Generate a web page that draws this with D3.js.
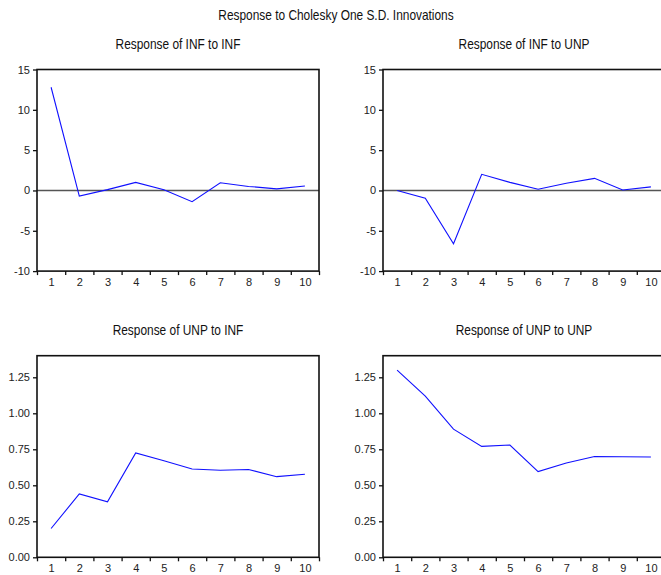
<!DOCTYPE html>
<html>
<head>
<meta charset="utf-8">
<script src="https://d3js.org/d3.v7.min.js"></script>
<style>
body { margin: 0; background: #fff; }
.title { font: 14px "Liberation Sans", Arial, sans-serif; fill: #111; }
.axis text { font: 11px "Liberation Sans", Arial, sans-serif; fill: #222; }
.axis path { display: none; }
.axis line { stroke: #111; stroke-width: 1.3; }
</style>
</head>
<body>
<svg id="chart" width="661" height="575"></svg>
<script>
// horizon (periods after the shock)
var periods = [1, 2, 3, 4, 5, 6, 7, 8, 9, 10];

// impulse responses
var infToInf = [12.8, -0.7, 0.1, 1.0, 0.1, -1.4, 0.95, 0.5, 0.2, 0.55];
var infToUnp = [0.0, -0.95, -6.6, 2.0, 1.0, 0.15, 0.9, 1.5, 0.05, 0.45];
var unpToInf = [0.20, 0.44, 0.385, 0.725, 0.67, 0.613, 0.605, 0.61, 0.56, 0.577];
var unpToUnp = [1.30, 1.12, 0.89, 0.77, 0.78, 0.595, 0.655, 0.70, 0.698, 0.697];

// y axis ticks for the two rows
var infTicks = [-10, -5, 0, 5, 10, 15];
var unpTicks = [0.00, 0.25, 0.50, 0.75, 1.00, 1.25];

var mainTitle = 'Response to Cholesky One S.D. Innovations';

var panels = [
  {title: 'Response of INF to INF', values: infToInf, left: 37, top: 69.5, domain: [-10, 15], ticks: infTicks, fmt: function(d) { return String(d); }, zero: true},
  {title: 'Response of INF to UNP', values: infToUnp, left: 383, top: 69.5, domain: [-10, 15], ticks: infTicks, fmt: function(d) { return String(d); }, zero: true},
  {title: 'Response of UNP to INF', values: unpToInf, left: 37, top: 355.7, domain: [0, 1.4], ticks: unpTicks, fmt: d3.format('.2f'), zero: false},
  {title: 'Response of UNP to UNP', values: unpToUnp, left: 383, top: 355.7, domain: [0, 1.4], ticks: unpTicks, fmt: d3.format('.2f'), zero: false}
];

var w = 282, h = 201.6;
var svg = d3.select('#chart');

//no narrow font installed, so squeeze the titles horizontally
function narrowTitle(sel, cx, cy, txt) {
  sel.append('text').attr('class', 'title')
    .attr('transform', 'translate(' + cx + ',' + cy + ') scale(0.85,1)')
    .attr('text-anchor', 'middle')
    .text(txt);
}

narrowTitle(svg, 336, 19.5, mainTitle);

var x = d3.scaleLinear().domain([0.5, 10.5]).range([0, w]);
var edges = d3.range(0.5, 11, 1);

panels.forEach(function(p) {
  var y = d3.scaleLinear().domain(p.domain).range([h, 0]);
  var g = svg.append('g').attr('transform', 'translate(' + p.left + ',' + p.top + ')');

  narrowTitle(g, w / 2, -21, p.title);

  //zero reference line
  if (p.zero) {
    g.append('line')
      .attr('x1', 0).attr('x2', w)
      .attr('y1', y(0)).attr('y2', y(0))
      .attr('stroke', '#555').attr('stroke-width', 1.6);
  }

  var line = d3.line()
    .x(function(d, i) { return x(periods[i]); })
    .y(function(d) { return y(d); });
  g.append('path').datum(p.values)
    .attr('fill', 'none').attr('stroke', '#1010ff').attr('stroke-width', 1.1)
    .attr('d', line);

  //frame
  g.append('rect').attr('width', w).attr('height', h)
    .attr('fill', 'none').attr('stroke', '#111').attr('stroke-width', 1.6);

  g.append('g').attr('class', 'axis')
    .call(d3.axisLeft(y).tickValues(p.ticks).tickFormat(p.fmt).tickSize(4).tickPadding(3));

  //tick marks sit between the periods, labels in the middle
  g.append('g').attr('class', 'axis').attr('transform', 'translate(0,' + h + ')')
    .call(d3.axisBottom(x).tickValues(edges).tickFormat('').tickSize(4));
  g.append('g').attr('class', 'axis').attr('transform', 'translate(0,' + h + ')')
    .call(d3.axisBottom(x).tickValues(periods).tickFormat(d3.format('d')).tickSize(0).tickPadding(7));
});
</script>
</body>
</html>
